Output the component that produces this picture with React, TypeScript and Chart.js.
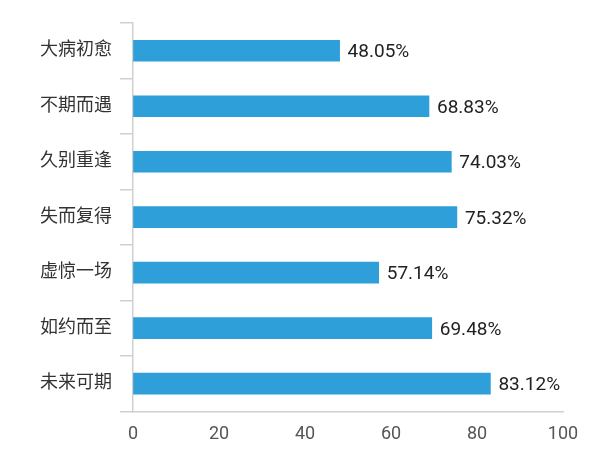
import { useEffect, useRef } from "react"
import { Chart, registerables, type ChartConfiguration, type Plugin } from "chart.js"

Chart.register(...registerables)

const categories = ["大病初愈", "不期而遇", "久别重逢", "失而复得", "虚惊一场", "如约而至", "未来可期"]
const percentages = [48.05, 68.83, 74.03, 75.32, 57.14, 69.48, 83.12]
const xTicks = [0, 20, 40, 60, 80, 100]

const FONT = "Roboto, 'Noto Sans CJK SC', sans-serif"

// draws "xx.xx%" to the right of each bar
const valueLabels: Plugin<"bar"> = {
  id: "valueLabels",
  afterDatasetsDraw(chart) {
    const { ctx } = chart
    const meta = chart.getDatasetMeta(0)
    ctx.save()
    ctx.font = `19px ${FONT}`
    ctx.fillStyle = "#222"
    ctx.textAlign = "left"
    ctx.textBaseline = "middle"
    meta.data.forEach((bar, i) => {
      ctx.fillText(`${percentages[i].toFixed(2)}%`, bar.x + 8, bar.y + 2)
    })
    ctx.restore()
  },
}

export default function App() {
  const chartRef = useRef<HTMLCanvasElement>(null)
  const chartInstance = useRef<Chart | null>(null)

  useEffect(() => {
    document.body.style.margin = "0"
    if (!chartRef.current) return
    if (chartInstance.current) chartInstance.current.destroy()

    const config: ChartConfiguration<"bar"> = {
      type: "bar",
      data: {
        labels: categories,
        datasets: [
          {
            data: percentages,
            backgroundColor: "#2e9fd9",
            barThickness: 21,
          },
        ],
      },
      options: {
        indexAxis: "y",
        animation: false,
        responsive: true,
        maintainAspectRatio: false,
        layout: { padding: { left: 32, top: 23, right: 37, bottom: 5 } },
        scales: {
          x: {
            min: 0,
            max: 100,
            afterBuildTicks: (axis) => {
              axis.ticks = xTicks.map((v) => ({ value: v }))
            },
            grid: { display: true, drawOnChartArea: false, drawTicks: false },
            border: { display: true, color: "#d0d0d0", width: 1.5 },
            ticks: { padding: 12, color: "#555", font: { size: 18, family: FONT } },
          },
          y: {
            offset: true,
            grid: {
              offset: true,
              drawOnChartArea: false,
              drawTicks: true,
              tickLength: 13,
              color: "#d0d0d0",
              lineWidth: 1.5,
            },
            border: { display: true, color: "#d0d0d0", width: 1.5 },
            ticks: { padding: 8, color: "#333", font: { size: 18, family: FONT } },
          },
        },
        plugins: {
          legend: { display: false },
          tooltip: { enabled: false },
        },
      },
      plugins: [valueLabels],
    }

    chartInstance.current = new Chart(chartRef.current, config)

    return () => {
      if (chartInstance.current) chartInstance.current.destroy()
      chartInstance.current = null
    }
  }, [])

  return (
    <div style={{ width: 600, height: 462, position: "relative" }}>
      <canvas ref={chartRef} />
    </div>
  )
}
